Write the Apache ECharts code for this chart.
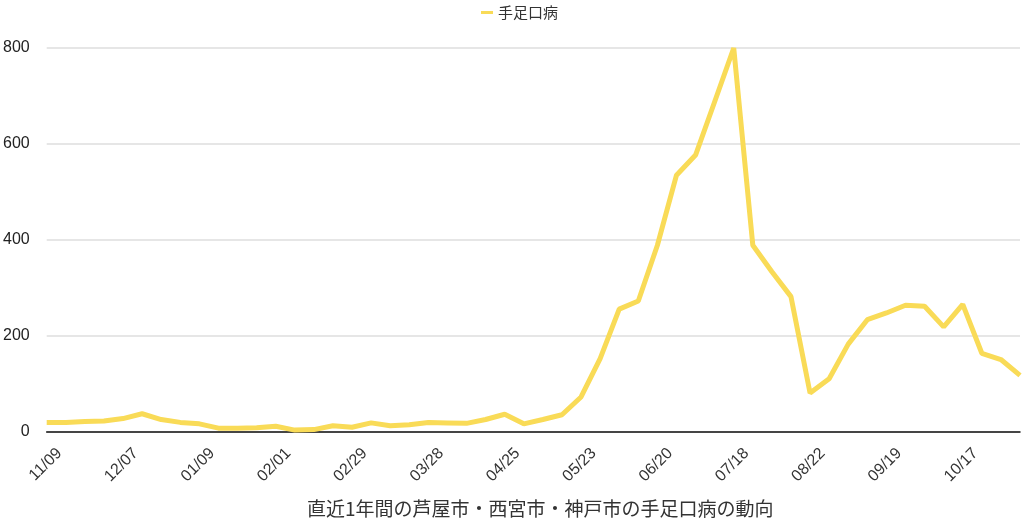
<!DOCTYPE html>
<html>
<head>
<meta charset="utf-8">
<script src="https://cdn.jsdelivr.net/npm/echarts@6/dist/echarts.min.js"></script>
<style>
html,body{margin:0;padding:0;background:#fff;}
#chart{width:1024px;height:526px;}
</style>
</head>
<body>
<div id="chart"></div>
<script>
const categories = ['11/09','11/16','11/23','11/30','12/07','12/14','12/21','12/28','01/09','01/11','01/18','01/25','02/01','02/08','02/15','02/22','02/29','03/07','03/14','03/21','03/28','04/04','04/11','04/18','04/25','05/02','05/09','05/16','05/23','05/30','06/06','06/13','06/20','06/27','07/04','07/11','07/18','07/25','08/01','08/08','08/22','08/29','09/05','09/12','09/19','09/26','10/03','10/10','10/17','10/24','10/31','11/07'];
const hfmd = [20,20,22,23,28,38,26,20,17,8,8,9,12,4,5,13,10,19,13,15,20,19,18,26,37,17,26,36,73,153,256,273,389,535,577,688,800,389,334,282,81,111,183,234,248,264,262,219,266,164,151,118];
const seriesName = '手足口病';
const axisTitle = '直近1年間の芦屋市・西宮市・神戸市の手足口病の動向';
const yTicks = {min: 0, max: 800, interval: 200};

const chart = echarts.init(document.getElementById('chart'));
chart.setOption({
  animation: false,
  legend: {
    left: 476, top: 0,
    icon: 'rect', itemWidth: 12, itemHeight: 3, itemGap: 10,
    textStyle: {fontSize: 15, color: '#333', fontFamily: 'Noto Sans CJK JP'},
    data: [seriesName]
  },
  grid: {left: 46, right: 4, top: 48, bottom: 94},
  xAxis: {
    type: 'category',
    data: categories,
    boundaryGap: false,
    axisLine: {lineStyle: {color: '#111', width: 1.5}},
    axisTick: {show: false},
    axisLabel: {
      rotate: 45, interval: 3, fontSize: 16, color: '#333', margin: 6,
      verticalAlign: 'top',
      padding: [10, 0, 0, 0],
      fontFamily: 'Liberation Sans, Arial, sans-serif'
    },
    name: axisTitle,
    nameLocation: 'middle',
    nameGap: 67,
    nameTextStyle: {fontSize: 19, color: '#333', fontFamily: 'Noto Sans CJK JP', padding: [0, 0, 0, 14]}
  },
  yAxis: {
    type: 'value',
    min: yTicks.min, max: yTicks.max, interval: yTicks.interval,
    axisLine: {show: false},
    axisTick: {show: false},
    axisLabel: {fontSize: 16, color: '#222', margin: 17, fontFamily: 'Liberation Sans, Arial, sans-serif'},
    splitLine: {lineStyle: {color: '#dedede', width: 1.5}}
  },
  series: [{
    name: seriesName,
    type: 'line',
    data: hfmd,
    showSymbol: false,
    symbol: 'none',
    color: '#f9db57',
    lineStyle: {width: 5, color: '#f9db57'}
  }]
});
</script>
</body>
</html>
